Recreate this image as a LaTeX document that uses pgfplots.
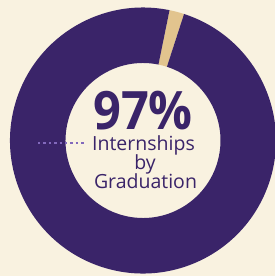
\documentclass[border=0pt]{standalone}
\usepackage{pgfplots}
\pgfplotsset{compat=1.18}
\usepackage{pgfplotstable}
\usepackage{fontspec}
\setmainfont{Open Sans}
\definecolor{cream}{HTML}{F9F2E0}
\definecolor{ringpurple}{HTML}{3A2469}
\definecolor{tan}{HTML}{E2C48E}
\definecolor{lavender}{HTML}{8269BC}
\pgfplotstableread{
part share
Internships 98.2
Other 1.8
}\donutdata
\begin{document}
\begin{tikzpicture}
\useasboundingbox (0,0) rectangle (275bp,276bp);
\fill[cream] (0,0) rectangle (275bp,276bp);
\begin{axis}[at={(0,0)},anchor=south west,scale only axis,width=275bp,height=276bp,
  xmin=0,xmax=275,ymin=0,ymax=276,hide axis,clip=false]
\pgfplotstablegetelem{0}{share}\of\donutdata
\pgfmathsetmacro{\sa}{\pgfplotsretval*3.6}
\pgfplotstablegetelem{1}{share}\of\donutdata
\pgfmathsetmacro{\sb}{\pgfplotsretval*3.6}
\pgfmathsetmacro{\astart}{78.5}
\pgfmathsetmacro{\amid}{\astart-\sb}
\pgfmathsetmacro{\aend}{\amid-\sa}
% tan sector
\fill[tan] ([shift={(axis cs:143,135.5)}]\astart:133bp) arc[start angle=\astart,end angle=\amid,radius=133bp]
  -- ([shift={(axis cs:143,135.5)}]\amid:77.5bp) arc[start angle=\amid,end angle=\astart,radius=77.5bp] -- cycle;
% purple sector
\fill[ringpurple] ([shift={(axis cs:143,135.5)}]\amid:133bp) arc[start angle=\amid,end angle=\aend,radius=133bp]
  -- ([shift={(axis cs:143,135.5)}]\aend:77.5bp) arc[start angle=\aend,end angle=\amid,radius=77.5bp] -- cycle;
\addplot[lavender,line width=2.6bp,dash pattern=on 2.4bp off 3bp] coordinates {(38,133) (86,133)};
\node[anchor=base,text=ringpurple,inner sep=0pt,text depth=0pt] at (axis cs:143,146.5)
  {\scalebox{0.92}[1]{\fontsize{53bp}{53bp}\selectfont\bfseries 97\%}};
\node[anchor=base,text=ringpurple,font=\fontsize{19.5bp}{19.5bp}\selectfont,inner sep=0pt] at (axis cs:143.5,125.3) {Internships};
\node[anchor=base,text=ringpurple,font=\fontsize{19.5bp}{19.5bp}\selectfont,inner sep=0pt] at (axis cs:145,106) {by};
\node[anchor=base,text=ringpurple,font=\fontsize{19.5bp}{19.5bp}\selectfont,inner sep=0pt] at (axis cs:145.5,87) {Graduation};
\end{axis}
\end{tikzpicture}
\end{document}
